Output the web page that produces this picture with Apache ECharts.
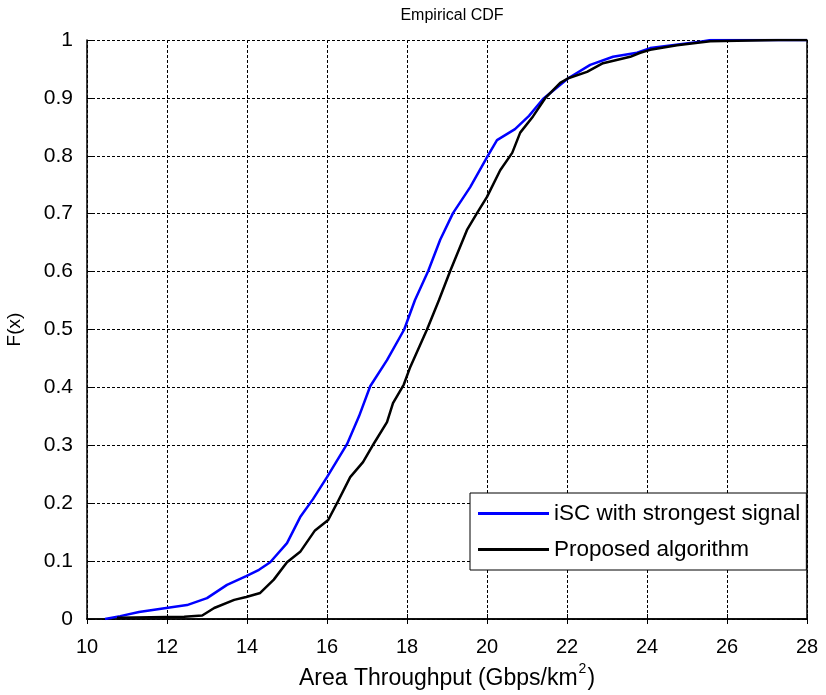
<!DOCTYPE html>
<html>
<head>
<meta charset="utf-8">
<script src="https://cdn.jsdelivr.net/npm/echarts@6/dist/echarts.min.js"></script>
<style>html,body{margin:0;padding:0;background:#fff;}#c{width:826px;height:695px;}</style>
</head>
<body>
<div id="c"></div>
<script>
// Data (x = Area Throughput, F = empirical CDF)
const seriesNames = ['iSC with strongest signal', 'Proposed algorithm'];
const iscX = [10.45,10.83,11.3,11.98,12.5,13.0,13.5,13.98,14.3,14.58,15.0,15.33,15.65,16.0,16.5,16.8,17.08,17.5,17.93,18.2,18.53,18.83,19.15,19.58,20.03,20.25,20.7,21.05,21.4,22.03,22.58,23.15,23.75,24.08,25.33,25.6,28];
const iscF = [0,0.005,0.012,0.019,0.024,0.036,0.059,0.074,0.085,0.098,0.131,0.176,0.207,0.245,0.302,0.35,0.402,0.447,0.5,0.551,0.601,0.655,0.701,0.746,0.801,0.827,0.846,0.869,0.898,0.934,0.957,0.971,0.978,0.986,0.997,1,1];
const propX = [10.75,12.43,12.88,13.18,13.68,13.98,14.33,14.67,15.0,15.33,15.7,16.03,16.25,16.58,16.9,17.18,17.5,17.65,17.92,18.08,18.5,18.8,19.08,19.5,19.75,20.0,20.33,20.63,20.83,21.15,21.45,21.83,22.03,22.5,22.9,23.58,23.83,24.08,24.75,25.58,27.28,28];
const propF = [0.002,0.004,0.006,0.019,0.033,0.038,0.045,0.068,0.098,0.116,0.153,0.171,0.2,0.245,0.271,0.304,0.34,0.373,0.405,0.435,0.5,0.551,0.601,0.672,0.701,0.729,0.775,0.805,0.84,0.868,0.899,0.926,0.934,0.945,0.96,0.971,0.978,0.983,0.991,0.998,1,1];
const xTicks = [10,12,14,16,18,20,22,24,26,28];
const yTicks = [0,0.1,0.2,0.3,0.4,0.5,0.6,0.7,0.8,0.9,1];

const FONT = '"Liberation Sans", Arial, sans-serif';
const zip = (xs, ys) => xs.map((x, i) => [x, ys[i]]);
const fmtY = v => { const r = Math.round(v * 10) / 10; return yTicks.some(t => Math.abs(t - r) < 1e-9) ? String(r) : ''; };

const chart = echarts.init(document.getElementById('c'), null, {renderer: 'canvas'});
const grid = {left: 87, right: 19, top: 40, bottom: 76, containLabel: false, outerBoundsMode: 'none'};
const dashed = {show: true, lineStyle: {color: '#000', width: 1, type: [3, 2]}};
chart.setOption({
  animation: false,
  backgroundColor: '#fff',
  title: {text: 'Empirical CDF', left: 447, textAlign: 'center', top: 3, textStyle: {fontFamily: FONT, fontSize: 16, fontWeight: 'normal', color: '#000'}},
  grid: grid,
  legend: {
    left: 470, top: 493, orient: 'vertical',
    data: seriesNames,
    icon: 'rect', itemWidth: 71, itemHeight: 3, itemGap: 13,
    padding: [9, 6, 9, 8],
    backgroundColor: '#fff', borderColor: '#000', borderWidth: 1, borderRadius: 0,
    textStyle: {fontFamily: FONT, fontSize: 22.5, color: '#000', lineHeight: 22}
  },
  xAxis: [{
    type: 'value', min: 10, max: 28, interval: 2,
    name: '{a|Area Throughput (Gbps/km}{s|2}{a|)}', nameLocation: 'middle', nameGap: 40,
    nameTextStyle: {rich: {
      a: {fontFamily: FONT, fontSize: 23, lineHeight: 34, color: '#000'},
      s: {fontFamily: FONT, fontSize: 14, lineHeight: 14, color: '#000', verticalAlign: 'top', padding: [0, 1, 0, 1]}
    }},
    axisLine: {show: true, lineStyle: {color: '#000', width: 1.5}},
    axisTick: {show: true, inside: true, length: 5, lineStyle: {color: '#000'}},
    axisLabel: {margin: 18, fontFamily: FONT, fontSize: 20, color: '#000', formatter: v => xTicks.includes(v) ? String(v) : ''},
    splitLine: dashed
  }, {
    type: 'value', position: 'top', min: 10, max: 28, interval: 2,
    axisLine: {show: true, lineStyle: {color: '#000', width: 1.5}},
    axisTick: {show: true, inside: true, length: 5, lineStyle: {color: '#000'}},
    axisLabel: {show: false}, splitLine: {show: false}
  }],
  yAxis: [{
    type: 'value', min: 0, max: 1, interval: 0.1,
    name: 'F(x)', nameLocation: 'middle', nameGap: 63, nameRotate: 90,
    nameTextStyle: {fontFamily: FONT, fontSize: 19, color: '#000'},
    axisLine: {show: true, lineStyle: {color: '#000', width: 1.5}},
    axisTick: {show: true, inside: true, length: 5, lineStyle: {color: '#000'}},
    axisLabel: {margin: 14, fontFamily: FONT, fontSize: 21, color: '#000', formatter: fmtY},
    splitLine: dashed
  }, {
    type: 'value', position: 'right', min: 0, max: 1, interval: 0.1,
    axisLine: {show: true, lineStyle: {color: '#000', width: 1.5}},
    axisTick: {show: true, inside: true, length: 5, lineStyle: {color: '#000'}},
    axisLabel: {show: false}, splitLine: {show: false}
  }],
  series: [{
    name: seriesNames[0], type: 'line', data: zip(iscX, iscF),
    showSymbol: false, symbol: 'none', color: '#0000ff',
    lineStyle: {color: '#0000ff', width: 2.5}
  }, {
    name: seriesNames[1], type: 'line', data: zip(propX, propF),
    showSymbol: false, symbol: 'none', color: '#000000',
    lineStyle: {color: '#000000', width: 2.5}
  }]
});
</script>
</body>
</html>
